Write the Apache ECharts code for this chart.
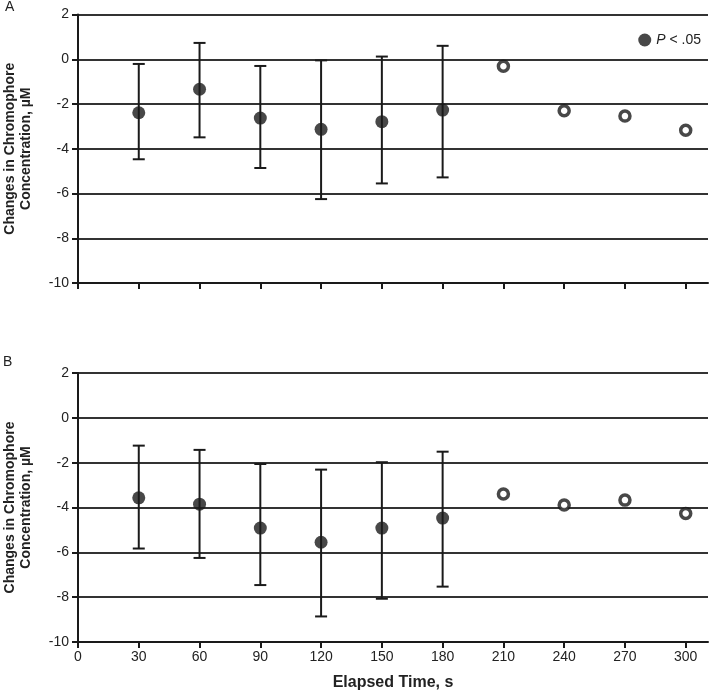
<!DOCTYPE html>
<html>
<head>
<meta charset="utf-8">
<script src="https://cdn.jsdelivr.net/npm/echarts@6/dist/echarts.min.js"></script>
<style>html,body{margin:0;padding:0;background:#fff}#c{width:710px;height:692px}</style>
</head>
<body>
<div id="c"></div>
<script>
const timesSig = [30, 60, 90, 120, 150, 180];
const timesOpen = [210, 240, 270, 300];
const xTicks = [0, 30, 60, 90, 120, 150, 180, 210, 240, 270, 300];
const yTicks = [2, 0, -2, -4, -6, -8, -10];

const meanA = [-2.39, -1.34, -2.63, -3.13, -2.79, -2.27];
const upperA = [-0.21, 0.73, -0.30, -0.05, 0.12, 0.60];
const lowerA = [-4.47, -3.49, -4.86, -6.25, -5.55, -5.28];
const openA = [-0.31, -2.30, -2.54, -3.17];

const meanB = [-3.57, -3.85, -4.92, -5.55, -4.92, -4.47];
const upperB = [-1.24, -1.43, -2.06, -2.31, -1.98, -1.51];
const lowerB = [-5.83, -6.25, -7.46, -8.86, -8.07, -7.53];
const openB = [-3.40, -3.89, -3.67, -4.27];

const FONT = 'Liberation Sans, Arial, sans-serif';
const INK = '#1a1a1a';

function errRender(params, api) {
  const x = api.value(0);
  const p1 = api.coord([x, api.value(1)]);
  const p2 = api.coord([x, api.value(2)]);
  const w = 6;
  const st = { stroke: INK, lineWidth: 2 };
  return {
    type: 'group',
    children: [
      { type: 'line', shape: { x1: p1[0], y1: p1[1], x2: p2[0], y2: p2[1] }, style: st },
      { type: 'line', shape: { x1: p1[0] - w, y1: p1[1], x2: p1[0] + w, y2: p1[1] }, style: st },
      { type: 'line', shape: { x1: p2[0] - w, y1: p2[1], x2: p2[0] + w, y2: p2[1] }, style: st }
    ]
  };
}

function xAxis(idx, showLabels) {
  return {
    type: 'value', gridIndex: idx, min: 0, max: 311,
    axisLine: { show: true, onZero: false, lineStyle: { color: INK, width: 2 } },
    axisTick: { show: true, customValues: xTicks, length: 6, lineStyle: { color: INK, width: 2 } },
    axisLabel: { show: showLabels, customValues: xTicks, color: '#222', fontSize: 14, fontFamily: FONT, margin: 8 },
    splitLine: { show: false },
    name: showLabels ? 'Elapsed Time, s' : '',
    nameLocation: 'middle', nameGap: 33,
    nameTextStyle: { fontWeight: 'bold', fontSize: 16, color: '#222', fontFamily: FONT }
  };
}
function yAxis(idx) {
  return {
    type: 'value', gridIndex: idx, min: -10, max: 2, interval: 2,
    axisLine: { show: true, onZero: false, lineStyle: { color: INK, width: 2 } },
    axisTick: { show: true, length: 6, lineStyle: { color: INK, width: 2 } },
    axisLabel: { color: '#222', fontSize: 14, fontFamily: FONT, margin: 9 },
    splitLine: { show: true, lineStyle: { color: '#333', width: 1.8 } },
    name: 'Changes in Chromophore\nConcentration, µM',
    nameLocation: 'middle', nameGap: 44,
    nameTextStyle: { fontWeight: 'bold', fontSize: 14, color: '#222', fontFamily: FONT, lineHeight: 16 }
  };
}

const chart = echarts.init(document.getElementById('c'), null, { renderer: 'canvas' });
chart.setOption({
  animation: false,
  backgroundColor: '#fff',
  grid: [
    { left: 78, right: 2, top: 14.5, height: 268.5, outerBoundsMode: 'none', containLabel: false },
    { left: 78, right: 2, top: 373, height: 269, outerBoundsMode: 'none', containLabel: false }
  ],
  xAxis: [xAxis(0, false), xAxis(1, true)],
  yAxis: [yAxis(0), yAxis(1)],
  legend: {
    data: ['P < .05'], right: 4, top: 28, icon: 'circle', itemWidth: 13, itemHeight: 13, itemGap: 4,
    formatter: function () { return '{i|P} < .05'; },
    textStyle: { fontSize: 14, color: '#222', fontFamily: FONT, rich: { i: { fontStyle: 'italic', fontSize: 14, fontFamily: FONT, color: '#222' } } }
  },
  graphic: [
    { type: 'text', left: 5, top: 0, style: { text: 'A', fontSize: 14, fontFamily: FONT, fill: '#222' } },
    { type: 'text', left: 3, top: 355, style: { text: 'B', fontSize: 14, fontFamily: FONT, fill: '#222' } }
  ],
  series: [
    { type: 'custom', xAxisIndex: 0, yAxisIndex: 0, renderItem: errRender, data: timesSig.map((t, i) => [t, upperA[i], lowerA[i]]), z: 3 },
    { type: 'custom', xAxisIndex: 1, yAxisIndex: 1, renderItem: errRender, data: timesSig.map((t, i) => [t, upperB[i], lowerB[i]]), z: 3 },
    { name: 'P < .05', type: 'scatter', xAxisIndex: 0, yAxisIndex: 0, symbol: 'circle', symbolSize: 13, itemStyle: { color: INK }, data: timesSig.map((t, i) => [t, meanA[i]]), z: 5 },
    { type: 'scatter', xAxisIndex: 1, yAxisIndex: 1, symbol: 'circle', symbolSize: 13, itemStyle: { color: INK }, data: timesSig.map((t, i) => [t, meanB[i]]), z: 5 },
    { type: 'scatter', xAxisIndex: 0, yAxisIndex: 0, symbol: 'circle', symbolSize: 10, itemStyle: { color: '#fff', borderColor: INK, borderWidth: 3.5 }, data: timesOpen.map((t, i) => [t, openA[i]]), z: 5 },
    { type: 'scatter', xAxisIndex: 1, yAxisIndex: 1, symbol: 'circle', symbolSize: 10, itemStyle: { color: '#fff', borderColor: INK, borderWidth: 3.5 }, data: timesOpen.map((t, i) => [t, openB[i]]), z: 5 }
  ]
});
</script>
</body>
</html>
